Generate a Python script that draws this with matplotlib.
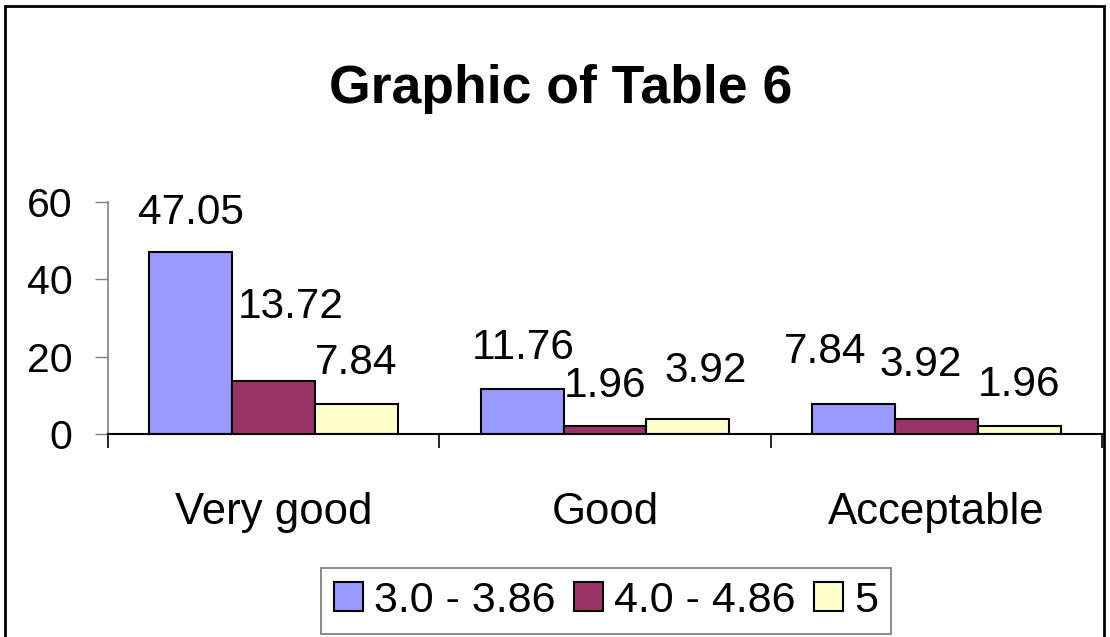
import matplotlib.pyplot as plt
from matplotlib.patches import Rectangle

plt.rcParams['font.family'] = ['Liberation Sans', 'DejaVu Sans']

# 数据
categories = ["Very good", "Good", "Acceptable"]
series_names = ["3.0 - 3.86", "4.0 - 4.86", "5"]
s1 = [47.05, 11.76, 7.84]
s2 = [13.72, 1.96, 3.92]
s3 = [7.84, 3.92, 1.96]
y_ticks = [0, 20, 40, 60]

colors = ["#9999FF", "#993366", "#FFFFCC"]
# 标签偏移 (像素), 仿照原图中为避免重叠而挪动的位置
label_offsets = [
    [(0, 28), (1, 30), (-28, 41)],
    [(17, 63), (0, 29), (-16, 43)],
    [(0, 30), (18, 37), (0, 30)],
]

fig = plt.figure(figsize=(11.1, 6.37), dpi=100)
ax = fig.add_axes([0.0973, 0.3187, 0.8955, 0.3642])

width = 0.25
x = list(range(len(categories)))
handles = []
for k, (vals, name) in enumerate(zip([s1, s2, s3], series_names)):
    pos = [i + (k - 1) * width for i in x]
    b = ax.bar(pos, vals, width, color=colors[k], edgecolor="black", linewidth=1.5, label=name)
    handles.append(b)
    for p, v, (dx, dy) in zip(pos, vals, label_offsets[k]):
        ax.annotate(f"{v:.2f}", xy=(p, v), xytext=(dx * 0.72, dy * 0.72),
                    textcoords="offset points", ha="center", va="baseline", fontsize=30.5)

ax.set_xlim(-0.5, 2.5)
ax.set_ylim(0, 60)
ax.set_yticks(y_ticks)
ax.tick_params(axis="y", labelsize=29.5, length=9.4, width=1, color="#808080", pad=16)

ax.set_xticks([-0.5, 0.5, 1.5, 2.5])
ax.set_xticklabels([])
ax.tick_params(axis="x", which="major", length=10, width=1.2, color="black")
ax.set_xticks(x, categories, minor=True)
ax.tick_params(axis="x", which="minor", length=0, labelsize=31.5, pad=42)

for s in ["top", "right"]:
    ax.spines[s].set_visible(False)
ax.spines["left"].set_color("#808080")
ax.spines["left"].set_linewidth(1.2)
ax.spines["bottom"].set_linewidth(1.5)

fig.text(0.505, 0.838, "Graphic of Table 6", ha="center", va="baseline",
         fontsize=38.5, fontweight="bold")

leg = fig.legend(handles=handles, loc="center", bbox_to_anchor=(0.546, 0.057), ncol=3,
                 fontsize=31, frameon=True, fancybox=False, handlelength=0.68, handleheight=0.68,
                 handletextpad=0.26, columnspacing=0.42, borderpad=0.3, borderaxespad=0)
leg.get_frame().set_edgecolor("#555555")
leg.get_frame().set_linewidth(1.2)

fig.add_artist(Rectangle((0.0045, -0.05), 0.99, 1.0406, transform=fig.transFigure,
                         fill=False, edgecolor="black", linewidth=2))

fig.savefig("out.png", dpi=100)
